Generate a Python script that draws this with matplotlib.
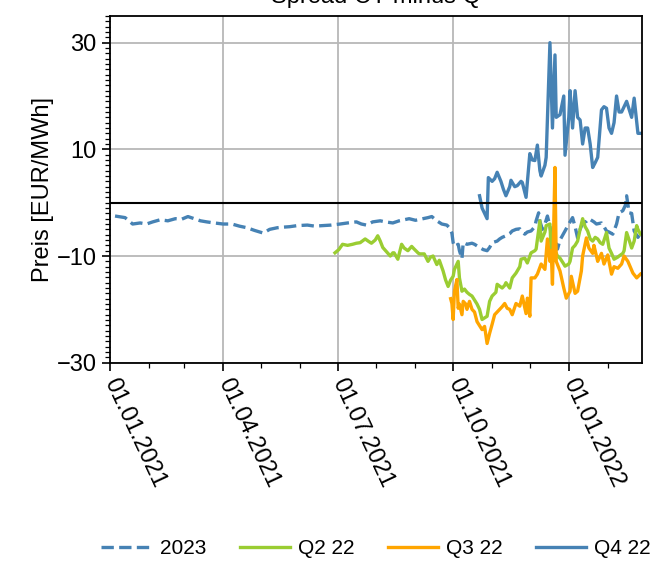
import matplotlib
matplotlib.use("Agg")
import matplotlib.pyplot as plt
import matplotlib.dates as mdates
from matplotlib.ticker import MultipleLocator, FixedLocator
import pandas as pd

plt.rcParams['font.family'] = ['Liberation Sans', 'DejaVu Sans']

BASE = pd.Timestamp('2021-01-01')

# days since 2021-01-01 and values [EUR/MWh]
cal23_days = [4, 12, 18, 24, 29, 34, 40, 46, 52, 57, 62, 67, 72, 77, 83, 90, 97, 103, 109, 115,
              122, 127, 133, 137, 143, 149, 157, 163, 169, 176, 183, 189, 196, 200, 204, 209, 215,
              219, 225, 230, 238, 243, 249, 253, 256, 260, 264, 268, 270, 272, 273, 274, 277, 278,
              280, 281, 284, 288, 290, 294, 297, 300, 302, 304, 308, 310, 312, 315, 318, 320, 323,
              326, 328, 330, 332, 335, 338, 339, 341, 342, 344, 346, 348, 350, 351, 354, 356, 358,
              362, 365, 368, 370, 372, 374, 376, 379, 381, 385, 387, 391, 393, 395, 397, 400, 403,
              405, 408, 410, 411, 413, 415, 417, 420, 422]
cal23_vals = [-2.5, -2.8, -4.0, -3.8, -4.0, -3.6, -3.2, -3.4, -3.0, -3.1, -2.6, -3.0, -3.4, -3.6,
              -3.8, -4.0, -4.0, -4.4, -4.7, -5.2, -5.7, -5.0, -4.7, -4.6, -4.5, -4.3, -4.2, -4.4,
              -4.3, -4.2, -4.0, -3.8, -3.6, -4.0, -4.2, -3.6, -3.4, -3.6, -3.8, -3.4, -3.0, -3.3,
              -3.0, -2.8, -2.6, -3.4, -4.0, -4.2, -4.7, -5.7, -7.5, -8.2, -7.8, -9.0, -10.5, -7.5,
              -7.8, -7.6, -7.8, -8.4, -8.8, -9.0, -8.4, -7.5, -7.2, -6.8, -6.5, -6.2, -5.8, -5.3,
              -5.0, -4.9, -5.5, -5.9, -5.5, -5.3, -4.5, -3.4, -1.9, -3.5, -5.0, -4.0, -2.5, -4.5,
              -5.9, -7.0, -8.7, -7.0, -5.3, -4.0, -2.8, -4.5, -6.6, -5.0, -3.8, -3.5, -3.0, -3.6,
              -4.0, -3.8, -4.5, -5.3, -5.5, -5.9, -4.0, -1.9, -1.5, -0.5, 1.3, -1.9, -2.0, -5.3,
              -6.5, -5.8]

q2_days = [179, 182, 185, 189, 193, 196, 199, 203, 206, 208, 211, 213, 215, 217, 220, 223, 225,
           226, 229, 232, 234, 237, 240, 242, 245, 246, 250, 253, 255, 257, 260, 262, 265, 267,
           269, 271, 273, 274, 277, 278, 280, 282, 284, 286, 288, 292, 294, 296, 300, 302, 304,
           307, 308, 312, 314, 315, 318, 320, 323, 326, 327, 330, 332, 335, 338, 339, 342, 343,
           346, 347, 350, 351, 354, 356, 358, 361, 362, 365, 366, 368, 370, 372, 374, 376, 378,
           380, 382, 384, 386, 388, 390, 392, 395, 397, 399, 401, 404, 405, 408, 409, 411, 413,
           415, 417, 419, 420, 422]
q2_vals = [-9.4, -8.8, -7.8, -8.0, -7.8, -7.6, -7.5, -6.8, -7.3, -7.6, -7.0, -6.2, -7.2, -8.4,
           -9.2, -10.0, -9.4, -9.4, -10.6, -7.8, -8.5, -9.0, -8.2, -8.7, -9.4, -9.6, -9.6, -11.0,
           -10.2, -10.0, -11.6, -10.8, -12.8, -14.5, -15.7, -14.5, -13.8, -12.5, -11.0, -14.1,
           -16.6, -16.2, -16.8, -17.2, -17.5, -19.0, -20.0, -21.9, -21.3, -18.5, -17.5, -16.8,
           -15.3, -16.0, -15.5, -15.0, -16.0, -14.1, -13.2, -12.0, -10.6, -10.4, -11.3, -9.4,
           -9.0, -8.7, -3.4, -7.2, -5.5, -4.3, -4.0, -9.4, -9.0, -10.0, -10.4, -11.5, -11.9,
           -11.5, -11.0, -8.5, -8.0, -7.2, -5.0, -3.0, -4.5, -5.3, -6.8, -7.2, -6.5, -6.8, -7.5,
           -7.8, -5.6, -8.5, -9.5, -10.6, -10.2, -10.0, -9.5, -9.0, -5.6, -7.0, -8.5, -7.2, -4.3,
           -5.0, -5.9]

q3_days = [271, 272, 273, 274, 276, 277, 278, 280, 281, 283, 284, 286, 288, 290, 292, 296, 298,
           300, 302, 304, 306, 308, 310, 312, 314, 316, 318, 320, 323, 326, 328, 331, 332, 334,
           335, 338, 340, 343, 346, 348, 350, 351, 352, 354, 355, 358, 361, 363, 366, 367, 370,
           372, 375, 376, 379, 381, 384, 385, 388, 391, 393, 396, 399, 401, 404, 407, 409, 412,
           416, 419, 422]
q3_vals = [-18.0, -18.9, -21.9, -16.6, -14.4, -19.8, -19.0, -21.0, -18.5, -19.0, -20.0, -18.5,
           -20.0, -20.5, -22.3, -23.8, -23.2, -26.4, -24.5, -22.8, -21.0, -20.5, -20.0, -19.5,
           -18.9, -19.8, -20.0, -21.0, -18.9, -19.4, -17.5, -20.8, -17.9, -21.3, -14.1, -14.1,
           -13.4, -11.5, -12.5, -6.8, -11.0, -9.0, -15.3, 6.6, -11.0, -12.8, -16.0, -17.9, -16.6,
           -13.8, -17.0, -16.6, -12.8, -10.0, -6.6, -8.5, -9.5, -8.0, -11.0, -9.5, -11.5, -9.8,
           -13.4, -12.0, -12.3, -11.5, -10.0, -11.0, -13.2, -14.1, -13.4]

q4_days = [294, 296, 300, 301, 304, 306, 308, 311, 313, 315, 318, 319, 322, 324, 327, 328, 331,
           334, 336, 338, 340, 342, 343, 346, 347, 350, 352, 354, 355, 358, 361, 362, 365, 366,
           368, 370, 372, 374, 376, 378, 380, 382, 384, 386, 388, 391, 393, 395, 397, 399, 401,
           403, 405, 407, 409, 411, 413, 415, 417, 420, 422]
q4_vals = [1.3, -1.0, -3.0, 4.7, 4.0, 4.5, 5.7, 4.0, 2.5, 1.3, 3.0, 4.2, 3.0, 3.2, 4.0, 3.8, 1.0,
           9.2, 8.0, 7.9, 10.8, 6.0, 5.0, 7.0, 8.5, 30.0, 14.0, 27.7, 16.0, 16.5, 20.0, 8.9, 16.0,
           21.0, 14.0, 21.0, 16.0, 15.5, 11.0, 14.0, 14.0, 11.0, 6.6, 7.5, 8.5, 17.4, 18.0, 17.7,
           14.0, 13.0, 15.0, 20.0, 17.0, 17.0, 18.0, 19.0, 17.5, 16.0, 19.6, 13.0, 13.0]

series_labels = ['2023', 'Q2 22', 'Q3 22', 'Q4 22']
series_colors = ['#4682b4', '#9acd32', '#ffa500', '#4682b4']
title_text = 'Spread CY minus Q'
y_label = 'Preis [EUR/MWh]'


def to_dates(days):
    return BASE + pd.to_timedelta(days, unit='D')


fig = plt.figure(figsize=(6.6, 5.61), dpi=100)
ax = fig.add_axes([110 / 660, 1 - 362.7 / 561, (641.7 - 110) / 660, (362.7 - 16) / 561])

ax.plot(to_dates(cal23_days), cal23_vals, color=series_colors[0], lw=2.4, ls='--',
        label=series_labels[0])
ax.plot(to_dates(q2_days), q2_vals, color=series_colors[1], lw=2.4, label=series_labels[1])
ax.plot(to_dates(q3_days), q3_vals, color=series_colors[2], lw=2.4, label=series_labels[2])
ax.plot(to_dates(q4_days), q4_vals, color=series_colors[3], lw=2.4, label=series_labels[3])
ax.axhline(0, color='black', lw=1.5)

ax.set_xlim(pd.Timestamp('2021-01-01'), pd.Timestamp('2022-02-28'))
ax.set_ylim(-30, 35)
ax.yaxis.set_major_locator(FixedLocator([-30, -10, 10, 30]))
ax.yaxis.set_minor_locator(MultipleLocator(1))
ax.xaxis.set_major_locator(mdates.MonthLocator(bymonth=[1, 4, 7, 10]))
ax.xaxis.set_minor_locator(mdates.MonthLocator())
ax.xaxis.set_major_formatter(mdates.DateFormatter('%d.%m.%Y'))

ax.grid(True, which='major', color='#b8b8b8', lw=1.3)
ax.set_axisbelow(True)
for s in ax.spines.values():
    s.set_linewidth(1.3)
    s.set_color('black')

ax.tick_params(axis='both', which='major', labelsize=17, length=6, width=1.2, color='black')
ax.tick_params(axis='both', which='minor', length=3.5, width=0.9, color='black')
ax.tick_params(axis='x', which='major', pad=6)
for lab in ax.get_xticklabels():
    lab.set_rotation(-65)
    lab.set_ha('left')
    lab.set_va('center')
    lab.set_rotation_mode('anchor')

ax.set_ylabel(y_label, fontsize=17, labelpad=2)
ax.set_title(title_text, fontsize=17, pad=9)

fig.legend(loc='center', bbox_to_anchor=(0.57, 0.022), ncol=4, frameon=False, fontsize=15,
           handlelength=2.4, columnspacing=1.6, handletextpad=0.4)

fig.savefig('out.png', dpi=100)
